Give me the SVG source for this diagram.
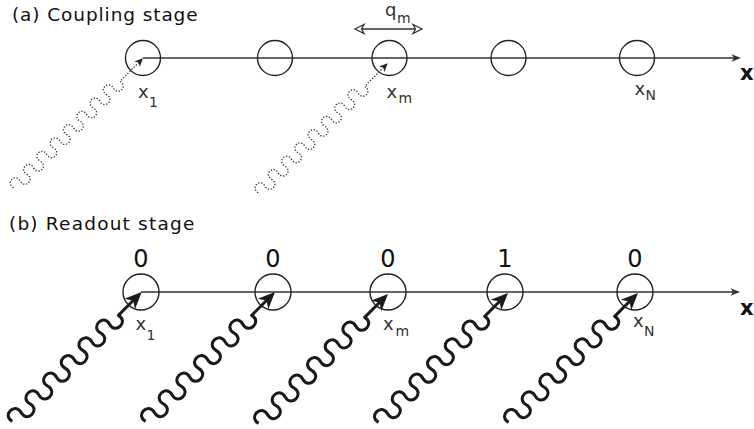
<svg xmlns="http://www.w3.org/2000/svg" xmlns:xlink="http://www.w3.org/1999/xlink" width="754" height="429" viewBox="0 0 754 429">
  <style>
    .title { font-family: "DejaVu Sans", sans-serif; font-size: 18.5px; fill: #111; }
    .site { fill: none; stroke: #222; stroke-width: 1.4; }
    .axis { stroke: #333; stroke-width: 1.5; fill: none; }
    .lbl { font-family: "DejaVu Sans", sans-serif; font-size: 18px; fill: #333; }
    .sub { font-family: "DejaVu Sans", sans-serif; font-size: 14px; fill: #333; }
    .bit { font-family: "DejaVu Sans", sans-serif; font-size: 24px; fill: #111; text-anchor: middle; }
    .axlbl { font-family: "DejaVu Sans", sans-serif; font-size: 21px; font-weight: bold; fill: #111; }
    .weak { fill: none; stroke: #333; stroke-width: 1.3; stroke-dasharray: 1.3 1.7; }
    .strong { fill: none; stroke: #1a1a1a; stroke-width: 3; stroke-linejoin: round; }
  </style>
  <defs>
    <!-- dotted photon: necked wiggle, then a straight run; tip at origin, pointing +x -->
    <g id="photon-weak">
      <path class="weak" d="M-183,0 c-2.5,-9.5 11.9,-9.5 9.4,0 s11.9,9.5 9.4,0 s11.9,-9.5 9.4,0 s11.9,9.5 9.4,0 s11.9,-9.5 9.4,0 s11.9,9.5 9.4,0 s11.9,-9.5 9.4,0 s11.9,9.5 9.4,0 s11.9,-9.5 9.4,0 s11.9,9.5 9.4,0 s11.9,-9.5 9.4,0 s11.9,9.5 9.4,0 s11.9,-9.5 9.4,0 s11.9,9.5 9.4,0 s11.9,-9.5 9.4,0 s11.9,9.5 9.4,0 L-6,0"/>
      <polygon points="0,0 -8.5,-3.8 -6,0 -8.5,3.8" fill="#222"/>
    </g>
    <!-- solid photon used for readout -->
    <g id="photon-strong">
      <path class="strong" d="M-183,0 c-3.5,-12 16,-12 12.5,0 s16,12 12.5,0 s16,-12 12.5,0 s16,12 12.5,0 s16,-12 12.5,0 s16,12 12.5,0 s16,-12 12.5,0 s16,12 12.5,0 s16,-12 12.5,0 s16,12 12.5,0 s16,-12 12.5,0 s16,12 12.5,0 L-11,0"/>
      <polygon points="0,0 -17,-7.5 -12,0 -17,7.5" fill="#1a1a1a"/>
    </g>
  </defs>

  <!-- (a) coupling stage -->
  <text class="title" x="12" y="20.5" letter-spacing="0.9">(a) Coupling stage</text>

  <g id="connectors">
    <!-- axes -->
    <line class="axis" x1="143" y1="58" x2="734" y2="58"/>
    <polygon points="741,58 731.5,54.3 734,58 731.5,61.7" fill="#333"/>
    <line class="axis" x1="141" y1="292" x2="733" y2="292" stroke-width="1.3"/>
    <polygon points="740,292 730.5,288.3 733,292 730.5,295.7" fill="#333"/>

    <!-- spacing q_m -->
    <line x1="360" y1="29" x2="417" y2="29" stroke="#333" stroke-width="1.5"/>
    <polygon points="355,29 364,24.5 361.5,29 364,33.5" fill="#fff" stroke="#333" stroke-width="1.3"/>
    <polygon points="422,29 413,24.5 415.5,29 413,33.5" fill="#fff" stroke="#333" stroke-width="1.3"/>

    <!-- coupling photons -->
    <use xlink:href="#photon-weak" transform="translate(143,58.3) rotate(-45)"/>
    <use xlink:href="#photon-weak" transform="translate(387.7,63.3) rotate(-45)"/>

    <!-- readout photons -->
    <use xlink:href="#photon-strong" transform="translate(141.7,292) rotate(-45)"/>
    <use xlink:href="#photon-strong" transform="translate(275,292) rotate(-45)"/>
    <use xlink:href="#photon-strong" transform="translate(388,294) rotate(-45)"/>
    <use xlink:href="#photon-strong" transform="translate(508,293) rotate(-45)"/>
    <use xlink:href="#photon-strong" transform="translate(638,293) rotate(-45)"/>
  </g>

  <g id="a-site-1"><circle class="site" cx="143" cy="58" r="17.5"/>
    <text class="lbl" x="138" y="98">x</text><text class="sub" x="149" y="107">1</text></g>
  <g id="a-site-2"><circle class="site" cx="275" cy="58" r="17.5"/></g>
  <g id="a-site-m"><circle class="site" cx="389.5" cy="58" r="17.5"/>
    <text class="lbl" x="386.5" y="98">x</text><text class="sub" x="398.5" y="103">m</text></g>
  <g id="a-site-4"><circle class="site" cx="508.5" cy="58" r="17.5"/></g>
  <g id="a-site-N"><circle class="site" cx="637" cy="58" r="17.5"/>
    <text class="lbl" x="634.5" y="95">x</text><text class="sub" x="645.5" y="100">N</text></g>

  <g id="q-label"><text class="lbl" x="385" y="16" font-size="20">q</text><text class="sub" x="397" y="23" font-size="15">m</text></g>
  <text class="axlbl" x="740" y="80">x</text>

  <!-- (b) readout stage -->
  <text class="title" x="9" y="229.5" letter-spacing="1.2">(b) Readout stage</text>

  <g id="b-site-1"><circle class="site" cx="141" cy="292" r="18"/>
    <text class="bit" x="141" y="266.5">0</text>
    <text class="lbl" x="135.5" y="330">x</text><text class="sub" x="146.5" y="340">1</text></g>
  <g id="b-site-2"><circle class="site" cx="273" cy="292" r="18"/>
    <text class="bit" x="273" y="266.5">0</text></g>
  <g id="b-site-m"><circle class="site" cx="388" cy="292" r="18"/>
    <text class="bit" x="388" y="266.5">0</text>
    <text class="lbl" x="383" y="330">x</text><text class="sub" x="395.5" y="336">m</text></g>
  <g id="b-site-4"><circle class="site" cx="505" cy="292" r="18"/>
    <text class="bit" x="505" y="266.5">1</text></g>
  <g id="b-site-N"><circle class="site" cx="635" cy="292" r="18"/>
    <text class="bit" x="635" y="266.5">0</text>
    <text class="lbl" x="633" y="327">x</text><text class="sub" x="644" y="336">N</text></g>

  <text class="axlbl" x="740" y="315">x</text>
</svg>
